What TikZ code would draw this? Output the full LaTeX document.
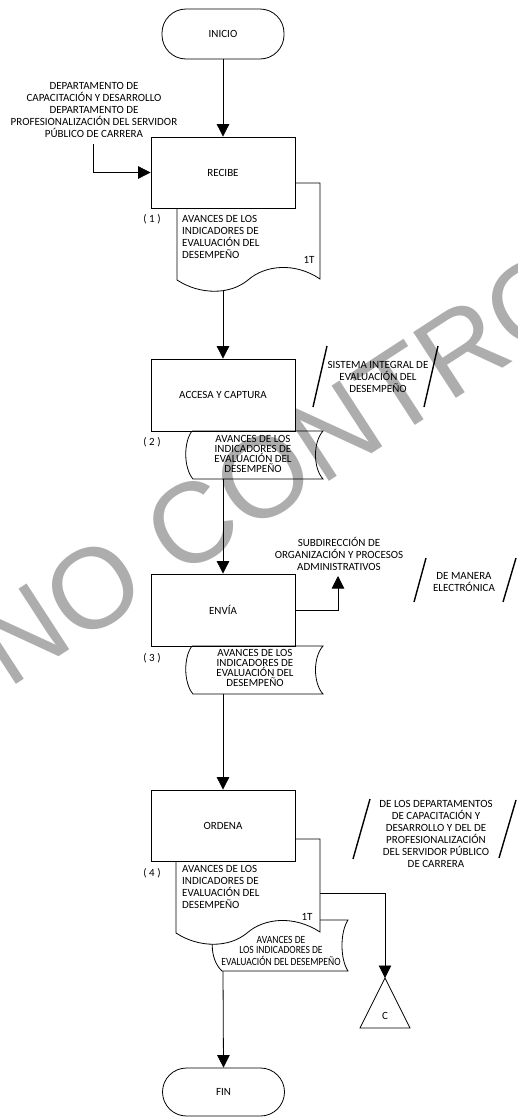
\documentclass[tikz,border=0pt]{standalone}
\usepackage{fontspec}
\setmainfont{Carlito}
\newfontfamily\wmfont{Liberation Sans}
\usetikzlibrary{arrows.meta}

\begin{document}
\begin{tikzpicture}[x=1pt,y=-1pt,
  every node/.style={font=\fontsize{11}{12}\selectfont, inner sep=0pt},
  procbox/.style={draw, line width=0.8pt, minimum width=144pt, minimum height=71pt, fill=white},
  term/.style={draw, line width=0.8pt, rounded corners=24pt, minimum width=122pt, minimum height=50pt},
  flow/.style={line width=0.8pt, -{Triangle[width=12.5pt,length=12.5pt]}},
  outline/.style={line width=0.8pt},
  slash/.style={line width=1.4pt},
  tight/.style={font=\fontsize{11}{10.2}\selectfont, align=center},
  watermark/.style={text=black!32, font=\wmfont\fontsize{114}{114}\selectfont},
]
\useasboundingbox (0,0) rectangle (517,1117);

% watermark behind the chart
\node[watermark, rotate=33, anchor=base west] (wm) at (8,690) {NO CONTRO};

% start
\node[term] (inicio) at (223,34) {INICIO};

% step 1: document partly behind the box
\draw[outline, fill=white] (177,183) -- (320,183) -- (320,279)
  .. controls (295,262) and (265,265) .. (248,280)
  .. controls (230,295) and (200,295) .. (177,280) -- cycle;
\node[procbox] (recibe) at (223,172.5) {RECIBE};
\node[align=center] (srcdept) at (94,110) {DEPARTAMENTO DE\\CAPACITACIÓN Y DESARROLLO\\DEPARTAMENTO DE\\PROFESIONALIZACIÓN DEL SERVIDOR\\PÚBLICO DE CARRERA};
\coordinate (srcfoot) at (93,144);
\node[align=left, anchor=north west] (d1txt) at (182,215.5) {AVANCES DE LOS\\INDICADORES DE\\EVALUACIÓN DEL\\DESEMPEÑO};
\node (d1tag) at (309,260) {1T};
\node (d1num) at (152,219) {( 1 )};
\coordinate (d1b) at (223,290);

% step 2
\node[procbox, minimum height=72pt] (accesa) at (223,395) {ACCESA Y CAPTURA};
\draw[outline] (192,431) -- (323,431) .. controls (313,442) and (313,468) .. (323,479)
  -- (193,479) .. controls (183.5,468) and (183.5,442) .. (192,431);
\node[tight] (d2txt) at (253,454) {AVANCES DE LOS\\INDICADORES DE\\EVALUACIÓN DEL\\DESEMPEÑO};
\node (d2num) at (152,442) {( 2 )};
\coordinate (d2b) at (223,479);
\node[align=center] (sisttxt) at (378,377) {SISTEMA INTEGRAL DE\\EVALUACIÓN DEL\\DESEMPEÑO};
\draw[slash] (313,407) -- (327,346);
\draw[slash] (424,407) -- (438,346);

% step 3
\node[procbox, minimum height=72pt] (envia) at (223,610) {ENVÍA};
\draw[outline] (192,646) -- (323,646) .. controls (313,657) and (313,683) .. (323,694)
  -- (193,694) .. controls (183.5,683) and (183.5,657) .. (192,646);
\node[tight] (d3txt) at (255,668) {AVANCES DE LOS\\INDICADORES DE\\EVALUACIÓN DEL\\DESEMPEÑO};
\node (d3num) at (152,658) {( 3 )};
\coordinate (d3b) at (223,694);
\node[align=center] (subdir) at (339,554) {SUBDIRECCIÓN DE\\ORGANIZACIÓN Y PROCESOS\\ADMINISTRATIVOS};
\coordinate (subarrow) at (338,576);
\node[align=center] (medio) at (464,582) {DE MANERA\\ELECTRÓNICA};
\draw[slash] (414,602) -- (426,558);
\draw[slash] (503,602) -- (516,558);

% step 4: stored copy, document and box, back to front
\draw[outline, fill=white] (222,920) -- (348,920) .. controls (340,932) and (340,959) .. (348,971)
  -- (222,971) .. controls (209,959) and (209,932) .. (222,920) -- cycle;
\node (tapetxt) at (281,952) {\scalebox{0.87}[1]{\fontsize{11}{9.5}\selectfont\begin{tabular}{@{}c@{}}AVANCES DE\\LOS INDICADORES DE\\EVALUACIÓN DEL DESEMPEÑO\end{tabular}}};
\draw[outline, fill=white] (176,839) -- (320,839) -- (320,932)
  .. controls (294,915) and (264,918) .. (247,933)
  .. controls (229,948) and (199,948) .. (176,933) -- cycle;
\node[procbox] (ordena) at (223,825.5) {ORDENA};
\node[align=left, anchor=north west] (d4txt) at (182,865.5) {AVANCES DE LOS\\INDICADORES DE\\EVALUACIÓN DEL\\DESEMPEÑO};
\node (d4tag) at (307,917) {1T};
\node (d4num) at (152,873) {( 4 )};
\coordinate (d4r) at (320,893);
\coordinate (tapeb) at (223,971);
\node[align=center] (deptxt) at (436,834) {DE LOS DEPARTAMENTOS\\DE CAPACITACIÓN Y\\DESARROLLO Y DEL DE\\PROFESIONALIZACIÓN\\DEL SERVIDOR PÚBLICO\\DE CARRERA};
\draw[slash] (353,859) -- (370,799);
\draw[slash] (499,858) -- (516,800);

% connector C
\coordinate (capex) at (385,978);
\draw[outline] (capex) -- (410,1028) -- (360,1028) -- cycle;
\node (ctxt) at (385,1016) {C};

% end
\node[term, minimum height=48pt] (fin) at (223.5,1092) {FIN};

% connectors
\draw[flow] (inicio.south) -- (recibe.north);
\draw[flow] (srcfoot) |- (recibe.west);
\draw[flow] (d1b) -- (accesa.north);
\draw[flow] (d2b) -- (envia.north);
\draw[flow] (envia.east) -| (subarrow);
\draw[flow] (d3b) -- (ordena.north);
\draw[flow] (d4r) -| (capex);
\draw[flow] (tapeb) -- (fin.north);
\end{tikzpicture}
\end{document}
